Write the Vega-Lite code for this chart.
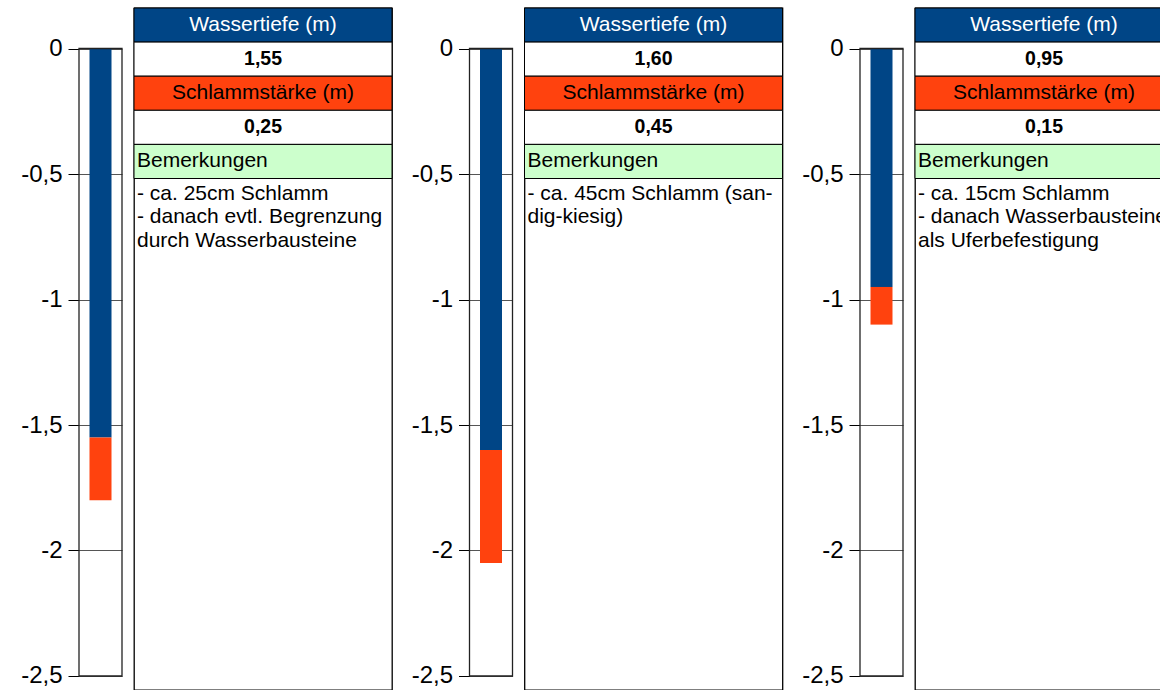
{
  "$schema": "https://vega.github.io/schema/vega-lite/v6.json",
  "autosize": {"type": "pad"},
  "padding": {"left": 20, "top": 6, "right": 0, "bottom": 0},
  "background": "white",
  "config": {"font": "Liberation Sans", "view": {"stroke": null}},
  "datasets": {
    "schichten": [
      {"panel": 1, "Schicht": "Wassertiefe", "von": 0, "bis": -1.55},
      {"panel": 1, "Schicht": "Schlammstärke", "von": -1.55, "bis": -1.8},
      {"panel": 2, "Schicht": "Wassertiefe", "von": 0, "bis": -1.6},
      {"panel": 2, "Schicht": "Schlammstärke", "von": -1.6, "bis": -2.05},
      {"panel": 3, "Schicht": "Wassertiefe", "von": 0, "bis": -0.95},
      {"panel": 3, "Schicht": "Schlammstärke", "von": -0.95, "bis": -1.1}
    ],
    "rahmen": [{"oben": 0, "unten": -2.5}],
    "tabelle": [
      {"panel": 1, "zeile": "h1", "text": "Wassertiefe (m)"},
      {"panel": 1, "zeile": "v1", "text": "1,55"},
      {"panel": 1, "zeile": "h2", "text": "Schlammstärke (m)"},
      {"panel": 1, "zeile": "v2", "text": "0,25"},
      {"panel": 1, "zeile": "h3", "text": "Bemerkungen"},
      {"panel": 1, "zeile": "txt", "text": "- ca. 25cm Schlamm\n- danach evtl. Begrenzung\ndurch Wasserbausteine"},
      {"panel": 2, "zeile": "h1", "text": "Wassertiefe (m)"},
      {"panel": 2, "zeile": "v1", "text": "1,60"},
      {"panel": 2, "zeile": "h2", "text": "Schlammstärke (m)"},
      {"panel": 2, "zeile": "v2", "text": "0,45"},
      {"panel": 2, "zeile": "h3", "text": "Bemerkungen"},
      {"panel": 2, "zeile": "txt", "text": "- ca. 45cm Schlamm (san-\ndig-kiesig)"},
      {"panel": 3, "zeile": "h1", "text": "Wassertiefe (m)"},
      {"panel": 3, "zeile": "v1", "text": "0,95"},
      {"panel": 3, "zeile": "h2", "text": "Schlammstärke (m)"},
      {"panel": 3, "zeile": "v2", "text": "0,15"},
      {"panel": 3, "zeile": "h3", "text": "Bemerkungen"},
      {"panel": 3, "zeile": "txt", "text": "- ca. 15cm Schlamm\n- danach Wasserbausteine\nals Uferbefestigung"}
    ]
  },
  "hconcat": [
    {
      "hconcat": [
        {
          "width": 43, "height": 682,
          "layer": [
            {
              "data": {"name": "schichten"},
              "transform": [{"filter": "datum.panel == 1"}],
              "mark": {"type": "bar", "width": 22},
              "encoding": {
                "x": {"field": "panel", "type": "nominal", "axis": null},
                "y": {"field": "von", "type": "quantitative",
                  "scale": {"domain": [-2.5558, 0.1614], "nice": false, "zero": false},
                  "axis": {"values": [0, -0.5, -1, -1.5, -2, -2.5], "labelExpr": "replace(toString(datum.value), '.', ',')", "title": null, "domain": false, "grid": true, "gridColor": "#555555", "gridWidth": 1, "tickSize": 11, "tickColor": "#000000", "tickWidth": 1, "labelFontSize": 24, "labelColor": "#000000", "labelPadding": 6, "labelFont": "Liberation Sans"}},
                "y2": {"field": "bis"},
                "color": {"field": "Schicht", "type": "nominal", "scale": {"domain": ["Wassertiefe", "Schlammstärke"], "range": ["#004586", "#ff420e"]}, "legend": null}
              }
            },
            {
              "data": {"name": "rahmen"},
              "mark": {"type": "rect", "fill": "transparent", "stroke": "#222222", "strokeWidth": 1.3},
              "encoding": {
                "y": {"field": "oben", "type": "quantitative"},
                "y2": {"field": "unten"}
              }
            }
          ]
        },
        {
          "width": 258, "height": 682,
          "view": {"stroke": "#000000", "strokeWidth": 1.3},
          "data": {"name": "tabelle"},
          "transform": [{"filter": "datum.panel == 1"}],
          "encoding": {"y": {"field": "zeile", "type": "nominal", "scale": {"domain": ["h1", "v1", "h2", "v2", "h3", "txt", "leer1", "leer2", "leer3", "leer4", "leer5", "leer6", "leer7", "leer8", "leer9", "leer10", "leer11", "leer12", "leer13", "leer14"], "paddingInner": 0, "paddingOuter": 0}, "axis": null}},
          "layer": [
            {"transform": [{"filter": "datum.zeile != 'txt'"}], "mark": {"type": "rect", "stroke": "#000000", "strokeWidth": 1}, "encoding": {"fill": {"field": "zeile", "type": "nominal", "scale": {"domain": ["h1", "v1", "h2", "v2", "h3"], "range": ["#004586", "#ffffff", "#ff420e", "#ffffff", "#ccffcc"]}, "legend": null}}},
            {"transform": [{"filter": "datum.zeile == 'h1'"}], "mark": {"type": "text", "fontSize": 21, "color": "#ffffff", "baseline": "middle", "align": "center"}, "encoding": {"text": {"field": "text"}}},
            {"transform": [{"filter": "datum.zeile == 'h2'"}], "mark": {"type": "text", "fontSize": 21, "color": "#000000", "baseline": "middle", "align": "center"}, "encoding": {"text": {"field": "text"}}},
            {"transform": [{"filter": "datum.zeile == 'v1' || datum.zeile == 'v2'"}], "mark": {"type": "text", "fontSize": 19.5, "fontWeight": "bold", "color": "#000000", "baseline": "middle", "align": "center"}, "encoding": {"text": {"field": "text"}}},
            {"transform": [{"filter": "datum.zeile == 'h3'"}], "mark": {"type": "text", "fontSize": 21, "color": "#000000", "baseline": "middle", "align": "left", "dx": 3}, "encoding": {"x": {"value": 0}, "text": {"field": "text"}}},
            {"transform": [{"filter": "datum.zeile == 'txt'"}], "mark": {"type": "text", "fontSize": 21, "color": "#000000", "baseline": "alphabetic", "align": "left", "dx": 3, "dy": 21, "lineBreak": "\n", "lineHeight": 23.5}, "encoding": {"x": {"value": 0}, "y": {"field": "zeile", "type": "nominal", "bandPosition": 0}, "text": {"field": "text"}}}
          ]
        }
      ],
      "spacing": 12,
      "bounds": "flush"
    },
    {
      "hconcat": [
        {
          "width": 43, "height": 682,
          "layer": [
            {
              "data": {"name": "schichten"},
              "transform": [{"filter": "datum.panel == 2"}],
              "mark": {"type": "bar", "width": 22},
              "encoding": {
                "x": {"field": "panel", "type": "nominal", "axis": null},
                "y": {"field": "von", "type": "quantitative",
                  "scale": {"domain": [-2.5558, 0.1614], "nice": false, "zero": false},
                  "axis": {"values": [0, -0.5, -1, -1.5, -2, -2.5], "labelExpr": "replace(toString(datum.value), '.', ',')", "title": null, "domain": false, "grid": true, "gridColor": "#555555", "gridWidth": 1, "tickSize": 11, "tickColor": "#000000", "tickWidth": 1, "labelFontSize": 24, "labelColor": "#000000", "labelPadding": 6, "labelFont": "Liberation Sans"}},
                "y2": {"field": "bis"},
                "color": {"field": "Schicht", "type": "nominal", "scale": {"domain": ["Wassertiefe", "Schlammstärke"], "range": ["#004586", "#ff420e"]}, "legend": null}
              }
            },
            {
              "data": {"name": "rahmen"},
              "mark": {"type": "rect", "fill": "transparent", "stroke": "#222222", "strokeWidth": 1.3},
              "encoding": {
                "y": {"field": "oben", "type": "quantitative"},
                "y2": {"field": "unten"}
              }
            }
          ]
        },
        {
          "width": 258, "height": 682,
          "view": {"stroke": "#000000", "strokeWidth": 1.3},
          "data": {"name": "tabelle"},
          "transform": [{"filter": "datum.panel == 2"}],
          "encoding": {"y": {"field": "zeile", "type": "nominal", "scale": {"domain": ["h1", "v1", "h2", "v2", "h3", "txt", "leer1", "leer2", "leer3", "leer4", "leer5", "leer6", "leer7", "leer8", "leer9", "leer10", "leer11", "leer12", "leer13", "leer14"], "paddingInner": 0, "paddingOuter": 0}, "axis": null}},
          "layer": [
            {"transform": [{"filter": "datum.zeile != 'txt'"}], "mark": {"type": "rect", "stroke": "#000000", "strokeWidth": 1}, "encoding": {"fill": {"field": "zeile", "type": "nominal", "scale": {"domain": ["h1", "v1", "h2", "v2", "h3"], "range": ["#004586", "#ffffff", "#ff420e", "#ffffff", "#ccffcc"]}, "legend": null}}},
            {"transform": [{"filter": "datum.zeile == 'h1'"}], "mark": {"type": "text", "fontSize": 21, "color": "#ffffff", "baseline": "middle", "align": "center"}, "encoding": {"text": {"field": "text"}}},
            {"transform": [{"filter": "datum.zeile == 'h2'"}], "mark": {"type": "text", "fontSize": 21, "color": "#000000", "baseline": "middle", "align": "center"}, "encoding": {"text": {"field": "text"}}},
            {"transform": [{"filter": "datum.zeile == 'v1' || datum.zeile == 'v2'"}], "mark": {"type": "text", "fontSize": 19.5, "fontWeight": "bold", "color": "#000000", "baseline": "middle", "align": "center"}, "encoding": {"text": {"field": "text"}}},
            {"transform": [{"filter": "datum.zeile == 'h3'"}], "mark": {"type": "text", "fontSize": 21, "color": "#000000", "baseline": "middle", "align": "left", "dx": 3}, "encoding": {"x": {"value": 0}, "text": {"field": "text"}}},
            {"transform": [{"filter": "datum.zeile == 'txt'"}], "mark": {"type": "text", "fontSize": 21, "color": "#000000", "baseline": "alphabetic", "align": "left", "dx": 3, "dy": 21, "lineBreak": "\n", "lineHeight": 23.5}, "encoding": {"x": {"value": 0}, "y": {"field": "zeile", "type": "nominal", "bandPosition": 0}, "text": {"field": "text"}}}
          ]
        }
      ],
      "spacing": 12,
      "bounds": "flush"
    },
    {
      "hconcat": [
        {
          "width": 43, "height": 682,
          "layer": [
            {
              "data": {"name": "schichten"},
              "transform": [{"filter": "datum.panel == 3"}],
              "mark": {"type": "bar", "width": 22},
              "encoding": {
                "x": {"field": "panel", "type": "nominal", "axis": null},
                "y": {"field": "von", "type": "quantitative",
                  "scale": {"domain": [-2.5558, 0.1614], "nice": false, "zero": false},
                  "axis": {"values": [0, -0.5, -1, -1.5, -2, -2.5], "labelExpr": "replace(toString(datum.value), '.', ',')", "title": null, "domain": false, "grid": true, "gridColor": "#555555", "gridWidth": 1, "tickSize": 11, "tickColor": "#000000", "tickWidth": 1, "labelFontSize": 24, "labelColor": "#000000", "labelPadding": 6, "labelFont": "Liberation Sans"}},
                "y2": {"field": "bis"},
                "color": {"field": "Schicht", "type": "nominal", "scale": {"domain": ["Wassertiefe", "Schlammstärke"], "range": ["#004586", "#ff420e"]}, "legend": null}
              }
            },
            {
              "data": {"name": "rahmen"},
              "mark": {"type": "rect", "fill": "transparent", "stroke": "#222222", "strokeWidth": 1.3},
              "encoding": {
                "y": {"field": "oben", "type": "quantitative"},
                "y2": {"field": "unten"}
              }
            }
          ]
        },
        {
          "width": 248, "height": 682,
          "view": {"stroke": "#000000", "strokeWidth": 1.3},
          "data": {"name": "tabelle"},
          "transform": [{"filter": "datum.panel == 3"}],
          "encoding": {"y": {"field": "zeile", "type": "nominal", "scale": {"domain": ["h1", "v1", "h2", "v2", "h3", "txt", "leer1", "leer2", "leer3", "leer4", "leer5", "leer6", "leer7", "leer8", "leer9", "leer10", "leer11", "leer12", "leer13", "leer14"], "paddingInner": 0, "paddingOuter": 0}, "axis": null}},
          "layer": [
            {"transform": [{"filter": "datum.zeile != 'txt'"}], "mark": {"type": "rect", "stroke": "#000000", "strokeWidth": 1}, "encoding": {"fill": {"field": "zeile", "type": "nominal", "scale": {"domain": ["h1", "v1", "h2", "v2", "h3"], "range": ["#004586", "#ffffff", "#ff420e", "#ffffff", "#ccffcc"]}, "legend": null}}},
            {"transform": [{"filter": "datum.zeile == 'h1'"}], "mark": {"type": "text", "fontSize": 21, "color": "#ffffff", "baseline": "middle", "align": "center"}, "encoding": {"x": {"value": 129}, "text": {"field": "text"}}},
            {"transform": [{"filter": "datum.zeile == 'h2'"}], "mark": {"type": "text", "fontSize": 21, "color": "#000000", "baseline": "middle", "align": "center"}, "encoding": {"x": {"value": 129}, "text": {"field": "text"}}},
            {"transform": [{"filter": "datum.zeile == 'v1' || datum.zeile == 'v2'"}], "mark": {"type": "text", "fontSize": 19.5, "fontWeight": "bold", "color": "#000000", "baseline": "middle", "align": "center"}, "encoding": {"x": {"value": 129}, "text": {"field": "text"}}},
            {"transform": [{"filter": "datum.zeile == 'h3'"}], "mark": {"type": "text", "fontSize": 21, "color": "#000000", "baseline": "middle", "align": "left", "dx": 3}, "encoding": {"x": {"value": 0}, "text": {"field": "text"}}},
            {"transform": [{"filter": "datum.zeile == 'txt'"}], "mark": {"type": "text", "fontSize": 21, "color": "#000000", "baseline": "alphabetic", "align": "left", "dx": 3, "dy": 21, "lineBreak": "\n", "lineHeight": 23.5}, "encoding": {"x": {"value": 0}, "y": {"field": "zeile", "type": "nominal", "bandPosition": 0}, "text": {"field": "text"}}}
          ]
        }
      ],
      "spacing": 12,
      "bounds": "flush"
    }
  ],
  "spacing": 16.5,
  "bounds": "full"
}
